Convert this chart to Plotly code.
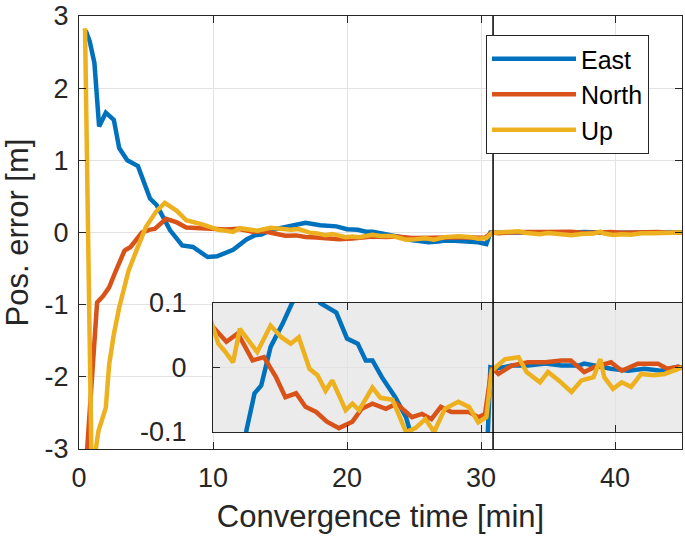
import plotly.graph_objects as go

# ---------------- data ----------------
east_t = [0.5, 0.8, 1.15, 1.5, 2.0, 2.6, 3.0, 3.6, 4.4, 5.3, 5.8, 6.8, 7.7, 8.5, 9.6, 10.3,
          11.5, 12.2, 12.5, 13.1, 13.6, 14.3, 15.2, 15.9, 16.9, 18.0, 19.2, 20.0, 20.8,
          21.4, 21.9, 22.6, 23.6, 24.4, 24.8, 25.5, 26.1, 26.8, 27.3, 28.0, 28.6, 29.2,
          29.8, 30.4, 30.7, 31.05, 32.3, 33.5, 34.8, 36.0, 37.3, 37.7, 39.7, 41.0, 42.2,
          43.4, 44.7, 45.0]
east_v = [2.8, 2.65, 2.35, 1.47, 1.66, 1.56, 1.17, 1.0, 0.92, 0.47, 0.38, 0.03, -0.18,
          -0.2, -0.34, -0.33, -0.24, -0.14, -0.097, -0.04, -0.028, 0.032, 0.068, 0.1,
          0.135, 0.1, 0.085, 0.045, 0.037, 0.011, 0.011, -0.015, -0.046, -0.077, -0.105,
          -0.12, -0.135, -0.125, -0.11, -0.115, -0.12, -0.13, -0.135, -0.16, 0.0, -0.002,
          0.003, 0.003, 0.006, 0.003, 0.003, 0.006, -0.002, -0.005, -0.002, -0.005, 0.001,
          0.0]

north_t = [0.5, 1.35, 1.8, 2.25, 2.75, 3.2, 3.4, 3.85, 4.3, 4.7, 5.3, 5.65, 6.5, 7.3, 8.0,
           9.2, 10.0, 11.0, 11.85, 12.95, 13.8, 14.7, 15.4, 16.2, 16.9, 17.7, 18.5, 19.4,
           20.4, 21.1, 21.9, 22.9, 23.7, 24.85, 25.6, 26.3, 27.0, 27.8, 29.1, 29.8, 30.3,
           30.8, 31.3, 31.9, 32.3, 33.5, 34.8, 36.0, 36.7, 37.7, 38.5, 39.7, 40.5, 41.7,
           43.2, 43.9, 44.7, 45.0]
north_v = [-3.3, -0.97, -0.88, -0.76, -0.53, -0.34, -0.25, -0.2, -0.09, 0.0, 0.04, 0.05,
           0.19, 0.14, 0.07, 0.06, 0.063, 0.04, 0.053, 0.011, 0.016, -0.015, -0.046, -0.04,
           -0.061, -0.069, -0.084, -0.094, -0.084, -0.064, -0.056, -0.064, -0.056, -0.077,
           -0.072, -0.08, -0.061, -0.069, -0.069, -0.077, -0.072, 0.0, -0.01, -0.002, 0.003,
           0.008, 0.008, 0.011, 0.011, -0.007, 0.001, 0.008, -0.005, 0.006, 0.006, -0.002,
           0.001, 0.0]

up_t = [0.45, 0.95, 1.45, 2.0, 2.25, 2.6, 3.0, 3.4, 3.7, 4.35, 5.0, 5.8, 6.4, 7.3, 8.0,
        9.25, 9.9, 10.4, 10.85, 11.5, 12.0, 12.7, 13.3, 14.3, 15.1, 15.8, 16.4, 17.2, 17.8,
        18.4, 18.9, 19.9, 20.4, 20.9, 21.9, 22.5, 23.4, 24.4, 25.1, 25.85, 26.5, 27.3, 28.3,
        29.1, 29.8, 30.4, 30.8, 31.8, 32.8, 33.4, 34.4, 35.0, 35.8, 36.75, 37.5, 38.4, 38.9,
        39.2, 39.85, 40.5, 41.2, 41.95, 42.9, 43.7, 44.7, 45.0]
up_v = [2.83, -3.4, -2.75, -2.43, -1.83, -1.41, -1.04, -0.72, -0.53, -0.22, 0.08, 0.3,
        0.41, 0.3, 0.17, 0.11, 0.068, 0.037, 0.026, 0.008, 0.06, 0.042, 0.024, 0.065, 0.047,
        0.037, 0.047, -0.002, -0.012, -0.036, -0.02, -0.066, -0.056, -0.066, -0.031, -0.047,
        -0.05, -0.1, -0.094, -0.08, -0.1, -0.064, -0.053, -0.061, -0.085, -0.077, -0.005,
        0.013, 0.016, -0.007, -0.023, -0.007, -0.02, -0.038, -0.02, -0.015, 0.013, -0.015,
        -0.033, -0.023, -0.03, -0.01, -0.012, -0.01, -0.002, 0.0]

series_names = ["East", "North", "Up"]
series_colors = ["#0072BD", "#D95319", "#EDB120"]

x_ticks = [0, 10, 20, 30, 40]
y_ticks = [-3, -2, -1, 0, 1, 2, 3]
y_ticklabels = ["-3", "-2", "-1", "0", "1", "2", "3"]
inset_x_ticks = [10, 20, 30, 40]
inset_y_ticks = [-0.1, 0, 0.1]
inset_y_ticklabels = ["-0.1", "0", "0.1"]
switch_time = 30.9  # vertical marker [min]

# ---------------- figure ----------------
FONT = "Liberation Sans, Arial, Helvetica, sans-serif"
INK = "#262626"
GRID = "#e3e3e3"
INSET_BG = "#ebebeb"

fig = go.Figure()
data = [(east_t, east_v), (north_t, north_v), (up_t, up_v)]
for (t, v), name, col in zip(data, series_names, series_colors):
    fig.add_trace(go.Scatter(x=t, y=v, mode="lines", name=name,
                             line=dict(color=col, width=4.5), xaxis="x", yaxis="y",
                             showlegend=True))
for (t, v), name, col in zip(data, series_names, series_colors):
    fig.add_trace(go.Scatter(x=t, y=v, mode="lines", name=name,
                             line=dict(color=col, width=4.5), xaxis="x2", yaxis="y2",
                             showlegend=False))

axis_common = dict(showline=True, linecolor=INK, linewidth=1.3, mirror="ticks",
                   ticks="inside", ticklen=7, tickwidth=1.2, tickcolor=INK,
                   showgrid=True, gridcolor=GRID, gridwidth=1, zeroline=False,
                   automargin=False,
                   tickfont=dict(family=FONT, size=27, color=INK))

inset_lo = (449 - 432) / 433
inset_hi = (449 - 303) / 433

fig.update_layout(
    width=685, height=536,
    margin=dict(l=79, r=3, t=16, b=87),
    paper_bgcolor="white", plot_bgcolor=INSET_BG,
    font=dict(family=FONT, color=INK),
    xaxis=dict(range=[0, 45], tickvals=x_ticks, domain=[0, 1],
               title=dict(text="Convergence time [min]", font=dict(size=31, color=INK),
                          standoff=13),
               ticklabelstandoff=4,
               **axis_common),
    yaxis=dict(range=[-3, 3], tickvals=y_ticks, ticktext=y_ticklabels, domain=[0, 1],
               title=dict(text="Pos. error [m]", font=dict(size=31, color=INK),
                          standoff=6),
               ticklabelstandoff=4,
               **axis_common),
    xaxis2=dict(range=[10, 45], tickvals=inset_x_ticks, showticklabels=False,
                domain=[10 / 45, 1], anchor="y2", **axis_common),
    yaxis2=dict(range=[-0.1, 0.1], tickvals=inset_y_ticks, ticktext=inset_y_ticklabels,
                domain=[inset_lo, inset_hi], anchor="x2", ticklabelstandoff=20,
                **axis_common),
    legend=dict(x=(486 - 79) / 603, y=(449 - 35) / 433, xanchor="left", yanchor="top",
                bgcolor="white", bordercolor=INK, borderwidth=1,
                font=dict(family=FONT, size=25, color="black"),
                itemwidth=84, tracegroupgap=0),
    showlegend=True,
)

# white background for the main axes (inset keeps the grey plot background)
fig.add_shape(type="rect", xref="x domain", yref="y domain", x0=0, x1=1, y0=0, y1=1,
              fillcolor="white", line=dict(width=0), layer="below")
# vertical marker line
fig.add_shape(type="line", xref="x", yref="paper", x0=switch_time, x1=switch_time,
              y0=0, y1=1, line=dict(color="black", width=1.5), layer="above")

fig.write_html("out.html", config={"displayModeBar": False},
               post_script="document.body.style.margin='0px';")
